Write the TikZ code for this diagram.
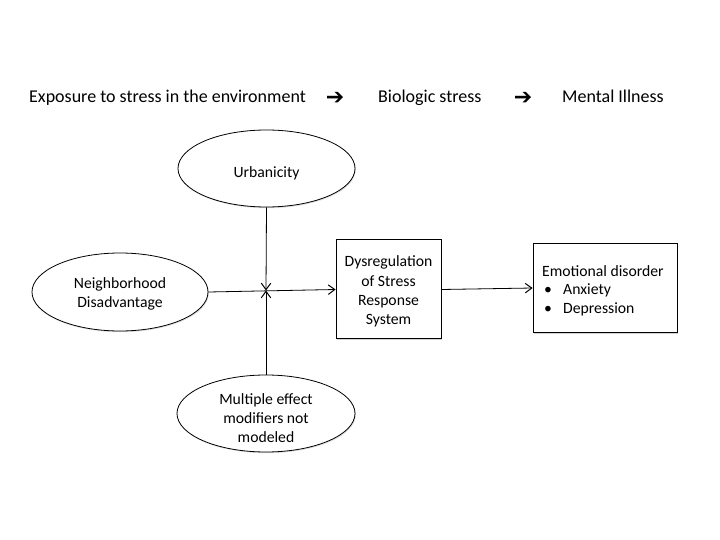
\documentclass[tikz,border=0pt]{standalone}
\usepackage{fontspec}
\setmainfont{Carlito}
\newfontfamily\symfont{DejaVu Sans}
\usetikzlibrary{shapes.geometric,arrows.meta,shadows}
\begin{document}
\begin{tikzpicture}[x=1pt,y=-1pt,
  every node/.style={font=\fontsize{15.7}{19.2}\selectfont},
  oval/.style={draw=black,line width=0.8pt,ellipse,fill=white,inner sep=0pt,
    drop shadow={shadow xshift=0.8pt,shadow yshift=-1.2pt,opacity=0.25}},
  boxnode/.style={draw=black,line width=0.8pt,rectangle,fill=white,inner sep=0pt,
    drop shadow={shadow xshift=1.2pt,shadow yshift=-1.5pt,opacity=0.35}},
  label text/.style={inner sep=0pt,align=center},
  toptext/.style={font=\fontsize{18}{21.6}\selectfont,anchor=base west,inner sep=0pt},
  toparrow/.style={font=\fontsize{22}{24}\symfont\bfseries,inner sep=0pt,anchor=center},
  conn/.style={line width=0.8pt,-{Straight Barb[length=6.5pt,width=9.5pt,line width=1pt]}}]
\useasboundingbox[fill=white] (0,0) rectangle (720,540);
% top line
\node[toptext] (t1) at (29,103) {Exposure to stress in the environment};
\node[toparrow] (a1) at (335,98) {➔};
\node[toptext] (t2) at (378,103) {Biologic stress};
\node[toparrow] (a2) at (523,98) {➔};
\node[toptext] (t3) at (562,103) {Mental Illness};
% ellipses
\node[oval,minimum width=177pt,minimum height=77pt] (urb) at (266.5,168.5) {};
\node[label text] (urbt) at (266.5,173) {Urbanicity};
\node[oval,minimum width=176pt,minimum height=78pt] (nbh) at (120,292) {};
\node[label text] (nbht) at (120,294) {Neighborhood\\Disadvantage};
\node[oval,minimum width=178pt,minimum height=77pt] (mem) at (266,413.5) {};
\node[label text] (memt) at (266,418) {Multiple effect\\modifiers not\\modeled};
% boxes
\node[boxnode,minimum width=105pt,minimum height=99pt] (dys) at (388.5,288.5) {};
\node[label text] (dyst) at (388.5,291.5) {Dysregulation\\of Stress\\Response\\System};
\node[boxnode,minimum width=144pt,minimum height=89pt] (emo) at (605,287.5) {};
\node[anchor=north west,inner sep=0pt,align=left] (emotext) at (542,265)
  {Emotional disorder\\[-0.5pt]
   \makebox[21pt][l]{\hspace{2pt}\textbullet}Anxiety\\[-0.5pt]
   \makebox[21pt][l]{\hspace{2pt}\textbullet}Depression};
% connectors
\coordinate (mid) at (266,290.5);
\draw[conn] (nbh.east) -- (dys.west |- 0,289.5);
\draw[conn] (dys.east |- 0,289.5) -- (emo.west |- 0,288);
\draw[conn] (urb.south) -- (mid);
\draw[conn] (mem.north) -- (mid);
\end{tikzpicture}
\end{document}
